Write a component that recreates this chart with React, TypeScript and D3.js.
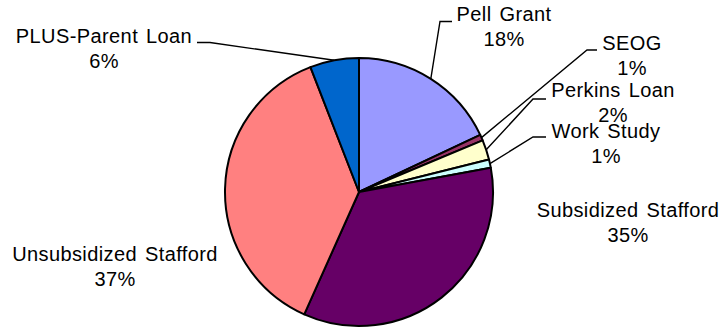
import React from "react";
import * as d3 from "d3";

const categories = ["Pell Grant", "SEOG", "Perkins Loan", "Work Study", "Subsidized Stafford", "Unsubsidized Stafford", "PLUS-Parent Loan"];
const values = [18.0, 0.7, 2.4, 1.0, 34.6, 37.4, 5.9];
const colors = ["#9999FF", "#993366", "#FFFFCC", "#CCFFFF", "#660066", "#FF8080", "#0066CC"];

// label layout: [labelCenterX, firstBaselineY, elbowX, elbowY, tailX] (null elbow = no leader)
const labelLayout: Array<{ x: number; y: number; leader: number[] | null }> = [
  { x: 504, y: 21, leader: [440, 21.5, 452] },
  { x: 632, y: 50, leader: [587, 50, 597] },
  { x: 613, y: 97, leader: [533, 99, 546] },
  { x: 606, y: 138, leader: [533, 137, 546] },
  { x: 628, y: 217, leader: null },
  { x: 115, y: 261, leader: null },
  { x: 104, y: 43, leader: [210, 42.5, 197] },
];

const W = 723, H = 331;
const cx = 359, cy = 192, R = 134;
const lineGap = 24.5;

export default function App() {
  const total = d3.sum(values);
  const pie = d3.pie<number>().sort(null).value((d) => d);
  const arcs = pie(values);
  const arc = d3.arc<d3.PieArcDatum<number>>().innerRadius(0).outerRadius(R);
  const edge = d3.arc<d3.PieArcDatum<number>>().innerRadius(R).outerRadius(R);
  const fmt = (v: number) => Math.round((v / total) * 100) + "%";

  return (
    <div style={{ position: "absolute", left: 0, top: 0 }}>
      <svg width={W} height={H} style={{ display: "block", background: "#fff" }}>
        <g transform={`translate(${cx},${cy})`}>
          {arcs.map((a, i) => (
            <path key={i} d={arc(a) || ""} fill={colors[i]} stroke="#000" strokeWidth={2} strokeLinejoin="round" />
          ))}
        </g>
        {arcs.map((a, i) => {
          const L = labelLayout[i];
          if (!L.leader) return null;
          const [ex, ey] = edge.centroid(a);
          const [bx, by, tx] = L.leader;
          return (
            <polyline key={"l" + i} points={`${cx + ex},${cy + ey} ${bx},${by} ${tx},${by}`} fill="none" stroke="#000" strokeWidth={1.4} />
          );
        })}
        {categories.map((c, i) => {
          const L = labelLayout[i];
          return (
            <text key={"t" + i} x={L.x} y={L.y} textAnchor="middle" fontFamily="'Liberation Sans', Arial, sans-serif" fontSize={20} letterSpacing={0.4} wordSpacing={2} fill="#000">
              <tspan x={L.x} y={L.y}>{c}</tspan>
              <tspan x={L.x} y={L.y + lineGap}>{fmt(values[i])}</tspan>
            </text>
          );
        })}
      </svg>
    </div>
  );
}
